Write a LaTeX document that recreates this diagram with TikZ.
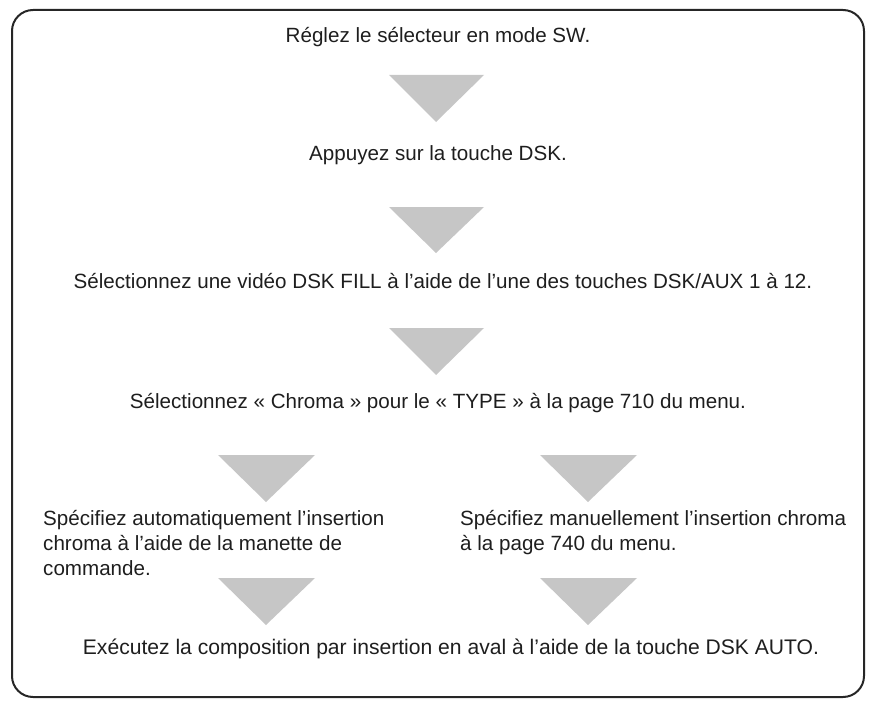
\documentclass[tikz,border=0pt]{standalone}
\usepackage{fontspec}
\setmainfont{Liberation Sans}
\usepackage{xcolor}
\usepackage{tikz}
\definecolor{trigray}{HTML}{C6C6C6}
\definecolor{txtgray}{HTML}{1E1E1E}
\tikzset{
  steptext/.style={text=txtgray, font=\fontsize{20.6}{25}\selectfont, inner sep=0pt, anchor=base},
  sidetext/.style={steptext, align=left, anchor=north west},
  tri/.style={fill=trigray},
}

\begin{document}
\begin{tikzpicture}
                \tikzset{x={(1pt, 0pt)}, y={(0pt, -1pt)}}
                \useasboundingbox (0,0) rectangle (876,701);
                \draw[line width=2pt, rounded corners=21pt, black!85] (12,10) rectangle (864,697);
                % steps
                \node[steptext] (sw)     at (438, 43) {Réglez le sélecteur en mode SW.};
                \node[steptext] (dsk)    at (438,160) {Appuyez sur la touche DSK.};
                \node[steptext] (fill)   at (443,288) {Sélectionnez une vidéo DSK FILL à l’aide de l’une des touches DSK/AUX 1 à 12.};
                \node[steptext] (chroma) at (438,408) {Sélectionnez « Chroma » pour le « TYPE » à la page 710 du menu.};
                \node[sidetext] (auto)   at ( 43,510) {Spécifiez automatiquement l’insertion\\chroma à l’aide de la manette de\\commande.};
                \node[sidetext] (manu)   at (460,510) {Spécifiez manuellement l’insertion chroma\\à la page 740 du menu.};
                \node[steptext, font=\fontsize{21.1}{25}\selectfont] (exec) at (451,654) {Exécutez la composition par insertion en aval à l’aide de la touche DSK AUTO.};
                % arrows
                \fill[tri] (389, 75) -- (484, 75) -- (436,122) -- cycle;
                \fill[tri] (389,207) -- (484,207) -- (436,253) -- cycle;
                \fill[tri] (389,328) -- (484,328) -- (436,375) -- cycle;
                \fill[tri] (218,455) -- (315,455) -- (266,502) -- cycle;
                \fill[tri] (540,455) -- (637,455) -- (588,502) -- cycle;
                \fill[tri] (218,578) -- (315,578) -- (266,625) -- cycle;
                \fill[tri] (540,578) -- (637,578) -- (588,625) -- cycle;
            \end{tikzpicture}
\end{document}
